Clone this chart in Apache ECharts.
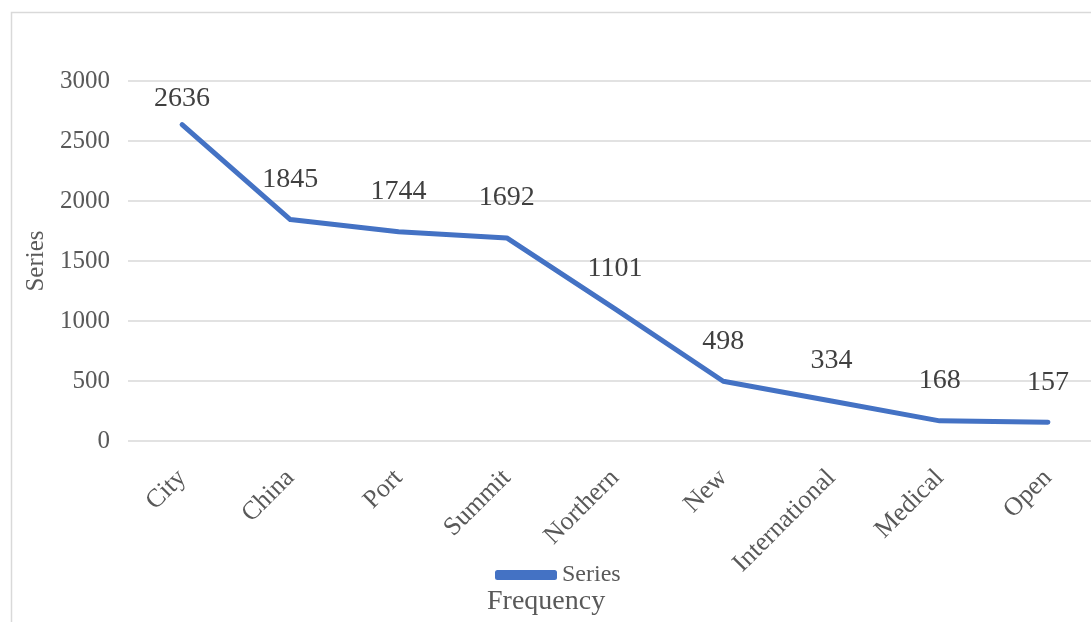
<!DOCTYPE html>
<html><head><meta charset="utf-8">
<script src="https://cdn.jsdelivr.net/npm/echarts@6/dist/echarts.min.js"></script>
<style>html,body{margin:0;padding:0;background:#fff;overflow:hidden;width:1091px;height:622px}#c{width:1102px;height:622px}</style>
</head><body><div id="c"></div>
<script>
const categories = ["City","China","Port","Summit","Northern","New","International","Medical","Open"];
const seriesValues = [2636,1845,1744,1692,1101,498,334,168,157];
const seriesName = "Series";
const yAxisName = "Series";
const xAxisTitle = "Frequency";

const chart = echarts.init(document.getElementById('c'));
const font = '"Liberation Serif","Times New Roman",serif';
const data = seriesValues.map((v,i)=> i===0 ? {value:v,label:{distance:12}} : v);
chart.setOption({
  animation:false,
  graphic:[
    {type:'rect',shape:{x:11.5,y:12.5,width:1200,height:700},style:{fill:'none',stroke:'#d9d9d9',lineWidth:1.5},silent:true},
    {type:'text',left:487,top:588,style:{text:xAxisTitle,font:'28px '+font,fill:'#595959'}}
  ],
  legend:{top:558,left:490,itemWidth:62,itemHeight:10,itemGap:6,
    data:[{name:seriesName,icon:'roundRect'}],
    textStyle:{fontFamily:font,fontSize:24,color:'#595959'}},
  grid:{left:128,right:0,top:81,bottom:181},
  xAxis:{type:'category',data:categories,boundaryGap:true,
    axisLine:{show:false},axisTick:{show:false},
    axisLabel:{rotate:45,margin:33,fontFamily:font,fontSize:26,color:'#595959',interval:0}},
  yAxis:{type:'value',min:0,max:3000,interval:500,name:yAxisName,nameLocation:'middle',nameGap:78,
    nameTextStyle:{fontFamily:font,fontSize:25,color:'#595959'},
    axisLine:{show:false},axisTick:{show:false},
    axisLabel:{margin:18,fontFamily:font,fontSize:25,color:'#595959',formatter:v=>String(v)},
    splitLine:{lineStyle:{color:'#d9d9d9',width:1.5}}},
  series:[{type:'line',name:seriesName,data:data,showSymbol:true,symbol:'circle',symbolSize:0,
    lineStyle:{color:'#4472C4',width:5,cap:'round',join:'round'},itemStyle:{color:'#4472C4'},
    label:{show:true,position:'top',distance:26,fontFamily:font,fontSize:28,color:'#404040'}}]
});
</script></body></html>
